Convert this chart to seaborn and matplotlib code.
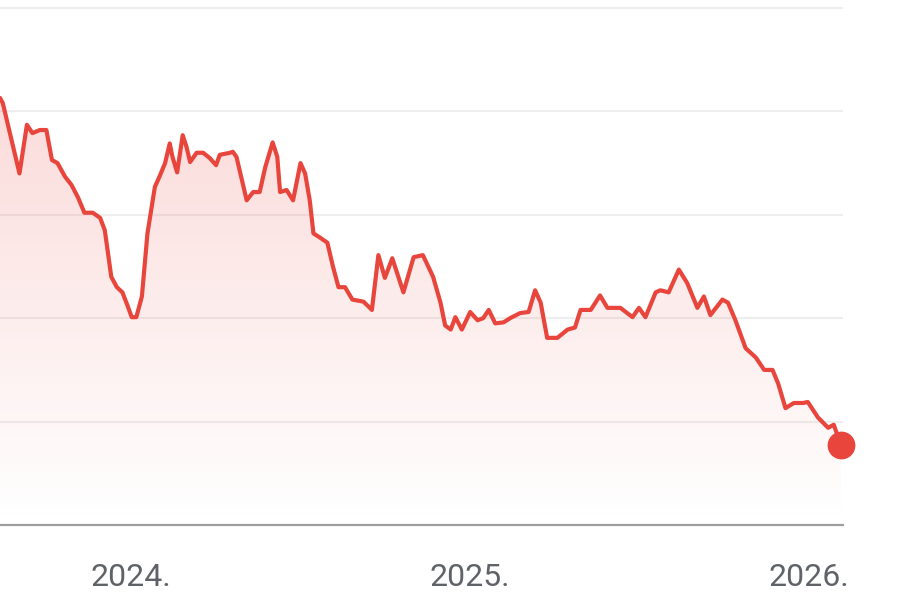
import numpy as np
import pandas as pd
import matplotlib
matplotlib.use("Agg")
import matplotlib.pyplot as plt
import matplotlib.dates as mdates
from matplotlib.patches import Polygon
import seaborn as sns

# (no y labels shown, values in gridline units)
dates = [
    "2023-08-13", "2023-08-16", "2023-09-03", "2023-09-11", "2023-09-17", "2023-09-25",
    "2023-10-02", "2023-10-08", "2023-10-14", "2023-10-22", "2023-10-29", "2023-11-05",
    "2023-11-12", "2023-11-21", "2023-11-29", "2023-12-04", "2023-12-11", "2023-12-17",
    "2023-12-23", "2023-12-29", "2024-01-02", "2024-01-07", "2024-01-13", "2024-01-19",
    "2024-01-27", "2024-02-01", "2024-02-07", "2024-02-12", "2024-02-15", "2024-02-20",
    "2024-02-26", "2024-03-01", "2024-03-05", "2024-03-12", "2024-03-19", "2024-03-26",
    "2024-04-02", "2024-04-06", "2024-04-17", "2024-04-20", "2024-04-24", "2024-05-05",
    "2024-05-12", "2024-05-19", "2024-05-25", "2024-06-02", "2024-06-07", "2024-06-10",
    "2024-06-17", "2024-06-24", "2024-07-02", "2024-07-07", "2024-07-12", "2024-07-16",
    "2024-07-23", "2024-07-31", "2024-08-06", "2024-08-12", "2024-08-19", "2024-08-27",
    "2024-09-08", "2024-09-17", "2024-09-24", "2024-10-01", "2024-10-09", "2024-10-21",
    "2024-11-01", "2024-11-11", "2024-11-22", "2024-11-30", "2024-12-05", "2024-12-11",
    "2024-12-16", "2024-12-23", "2025-01-01", "2025-01-09", "2025-01-15", "2025-01-21",
    "2025-01-28", "2025-02-06", "2025-02-13", "2025-02-24", "2025-03-05", "2025-03-12",
    "2025-03-18", "2025-03-25", "2025-04-05", "2025-04-16", "2025-04-24", "2025-04-30",
    "2025-05-11", "2025-05-21", "2025-05-29", "2025-06-12", "2025-06-25", "2025-07-02",
    "2025-07-09", "2025-07-20", "2025-07-25", "2025-08-03", "2025-08-14", "2025-08-23",
    "2025-09-03", "2025-09-10", "2025-09-17", "2025-09-30", "2025-10-06", "2025-10-14",
    "2025-10-25", "2025-11-05", "2025-11-14", "2025-11-23", "2025-11-29", "2025-12-07",
    "2025-12-16", "2025-12-26", "2025-12-31", "2026-01-11", "2026-01-22", "2026-01-28",
    "2026-02-05",
]
values = [
    4.13, 4.08, 3.40, 3.87, 3.79, 3.82,
    3.82, 3.53, 3.50, 3.37, 3.29, 3.17,
    3.02, 3.02, 2.97, 2.85, 2.40, 2.30,
    2.25, 2.11, 2.01, 2.01, 2.21, 2.82,
    3.27, 3.37, 3.50, 3.69, 3.56, 3.41,
    3.77, 3.66, 3.51, 3.60, 3.60, 3.55,
    3.48, 3.58, 3.60, 3.61, 3.56, 3.14,
    3.22, 3.22, 3.46, 3.70, 3.56, 3.22,
    3.24, 3.14, 3.50, 3.40, 3.14, 2.82,
    2.78, 2.73, 2.50, 2.30, 2.30, 2.18,
    2.16, 2.08, 2.61, 2.39, 2.58, 2.25,
    2.59, 2.61, 2.40, 2.15, 1.93, 1.89,
    2.01, 1.89, 2.06, 1.98, 2.00, 2.08,
    1.95, 1.96, 2.00, 2.05, 2.06, 2.27,
    2.15, 1.81, 1.81, 1.89, 1.91, 2.08,
    2.08, 2.22, 2.10, 2.10, 2.01, 2.10,
    2.01, 2.25, 2.27, 2.25, 2.47, 2.34,
    2.10, 2.21, 2.03, 2.18, 2.15, 1.98,
    1.71, 1.62, 1.50, 1.50, 1.37, 1.13,
    1.18, 1.18, 1.19, 1.04, 0.94, 0.97,
    0.77,
]
tick_dates = ["2024-01-01", "2025-01-01", "2026-01-01"]
tick_labels = ["2024.", "2025.", "2026."]

df = pd.DataFrame({"date": pd.to_datetime(dates), "value": values})

line_color = "#e8453c"

sns.set_style("white")
plt.rcParams["font.family"] = ["Roboto", "DejaVu Sans"]

fig = plt.figure(figsize=(9.22, 6.14), dpi=100)
ax = fig.add_axes([0, 89 / 614, 843 / 922, 525 / 614])

sns.lineplot(data=df, x="date", y="value", ax=ax, color=line_color, linewidth=3.0,
             solid_joinstyle="round", solid_capstyle="round", zorder=3)

# gradient fill under the line
xnum = mdates.date2num(df["date"])
ymin, ymax = 0, 525 / 103.4
x0 = mdates.date2num(pd.Timestamp("2023-08-13"))
x1 = mdates.date2num(pd.Timestamp("2026-02-07"))
grad = np.zeros((256, 1, 4))
grad[..., 0], grad[..., 1], grad[..., 2] = 0.91, 0.27, 0.24
grad[:, 0, 3] = np.linspace(0.2, 0.0, 256)
img = ax.imshow(grad, aspect="auto", extent=[x0, x1, ymin, 4.3], origin="upper", zorder=1)
verts = np.column_stack([np.r_[xnum[0], xnum, xnum[-1]], np.r_[ymin, df["value"], ymin]])
poly = Polygon(verts, closed=True, facecolor="none", edgecolor="none")
ax.add_patch(poly)
img.set_clip_path(poly)

# end dot
ax.plot(xnum[-1], values[-1], "o", color=line_color, markersize=19, clip_on=False, zorder=4)

ax.set_xlim(x0, x1)
ax.set_ylim(ymin, ymax)
ax.set_yticks([1, 2, 3, 4, 5])
ax.yaxis.grid(True, color="#eeeeee", linewidth=1.5)
ax.tick_params(axis="y", left=False, labelleft=False)

ax.set_xticks(mdates.date2num(pd.to_datetime(tick_dates)))
ax.set_xticklabels(tick_labels)
ax.tick_params(axis="x", length=10, width=2.2, color="#555555", pad=17,
               labelsize=23, labelcolor="#5f6368")
ax.set_xlabel("")
ax.set_ylabel("")

for s in ["top", "right", "left"]:
    ax.spines[s].set_visible(False)
ax.spines["bottom"].set_color("#9e9e9e")
ax.spines["bottom"].set_linewidth(1.6)

fig.savefig("out.png", dpi=100)
